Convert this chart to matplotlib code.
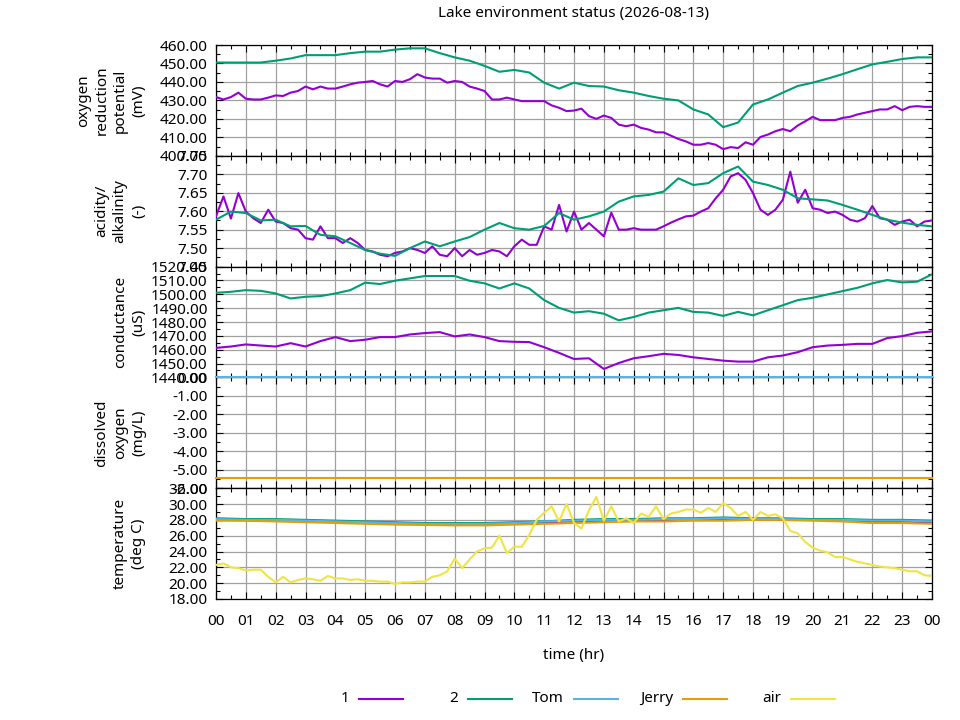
import numpy as np
import matplotlib
matplotlib.use('Agg')
import matplotlib.pyplot as plt
from matplotlib.lines import Line2D
from matplotlib.ticker import MultipleLocator, FuncFormatter

plt.rcParams['font.family'] = ['Noto Sans', 'DejaVu Sans']
FS = 11
plt.rcParams['font.size'] = FS

# ---------------- data ----------------
t15 = np.arange(97) * 0.25   # hours, 15-min samples
t30 = np.arange(49) * 0.5    # hours, 30-min samples
t60 = np.arange(25) * 1.0    # hours, hourly samples

orp_1 = [431.8, 430.5, 431.8, 434.2, 430.9, 430.5, 430.5, 431.5, 432.7, 432.4, 434.2, 435.1,
         437.5, 436.0, 437.5, 436.4, 436.4, 437.5, 438.7, 439.6, 440.0, 440.5, 438.7, 437.5,
         440.5, 440.0, 441.5, 444.2, 442.4, 441.8, 441.8, 439.6, 440.5, 440.0, 437.5, 436.4,
         435.1, 430.5, 430.5, 431.5, 430.5, 429.6, 429.6, 429.6, 429.6, 427.3, 426.0, 424.2,
         424.5, 425.5, 421.5, 420.0, 421.8, 420.5, 416.9, 416.0, 416.9, 415.1, 414.2, 412.7,
         412.7, 410.9, 409.1, 407.8, 406.0, 406.0, 406.9, 406.0, 403.6, 404.7, 404.2, 407.3,
         406.0, 410.2, 411.5, 413.3, 414.5, 413.3, 416.4, 418.7, 421.1, 419.3, 419.3, 419.3,
         420.5, 421.1, 422.4, 423.3, 424.2, 425.1, 425.1, 426.9, 424.7, 426.5, 426.9, 426.5,
         426.5]
orp_2 = [450.5, 450.5, 450.5, 450.5, 451.5, 452.7, 454.5, 454.5, 454.5, 455.6, 456.4, 456.4,
         457.5, 458.2, 458.2, 455.6, 453.3, 451.5, 448.7, 445.5, 446.5, 445.1, 439.6, 436.4,
         439.6, 437.8, 437.5, 435.5, 434.2, 432.4, 430.9, 430.0, 425.1, 422.4, 415.5, 418.0,
         427.8, 430.5, 434.2, 437.8, 439.6, 441.8, 444.2, 446.9, 449.5, 450.9, 452.4, 453.3,
         453.3]

ph_1 = [7.586, 7.640, 7.580, 7.649, 7.599, 7.581, 7.568, 7.604, 7.572, 7.568, 7.554, 7.550,
        7.527, 7.523, 7.559, 7.527, 7.527, 7.514, 7.527, 7.514, 7.495, 7.491, 7.482, 7.478,
        7.487, 7.491, 7.500, 7.495, 7.487, 7.505, 7.482, 7.478, 7.500, 7.478, 7.495, 7.482,
        7.487, 7.495, 7.491, 7.478, 7.505, 7.523, 7.509, 7.509, 7.559, 7.550, 7.617, 7.545,
        7.599, 7.550, 7.568, 7.550, 7.532, 7.596, 7.550, 7.550, 7.554, 7.550, 7.550, 7.550,
        7.559, 7.569, 7.578, 7.586, 7.588, 7.599, 7.608, 7.635, 7.658, 7.694, 7.703, 7.685,
        7.649, 7.604, 7.590, 7.604, 7.631, 7.707, 7.623, 7.658, 7.608, 7.604, 7.595, 7.599,
        7.590, 7.577, 7.572, 7.581, 7.614, 7.581, 7.577, 7.563, 7.572, 7.577, 7.559, 7.572,
        7.575]
ph_2 = [7.577, 7.599, 7.595, 7.575, 7.577, 7.559, 7.560, 7.536, 7.532, 7.514, 7.495, 7.485,
        7.479, 7.500, 7.518, 7.505, 7.518, 7.530, 7.550, 7.568, 7.554, 7.550, 7.560, 7.595,
        7.577, 7.586, 7.599, 7.626, 7.640, 7.644, 7.653, 7.689, 7.671, 7.676, 7.703, 7.721,
        7.680, 7.671, 7.658, 7.635, 7.632, 7.629, 7.617, 7.604, 7.590, 7.577, 7.569, 7.563,
        7.559]

cond_1 = [1461.3, 1462.3, 1463.8, 1463.0, 1462.3, 1464.7, 1462.3, 1466.2, 1469.1, 1466.2,
          1467.2, 1469.1, 1469.1, 1471.0, 1472.0, 1472.7, 1469.6, 1471.0, 1469.1, 1466.2,
          1465.7, 1465.5, 1461.8, 1457.7, 1453.3, 1453.8, 1446.1, 1450.4, 1453.8, 1455.3,
          1457.0, 1456.2, 1454.5, 1453.3, 1452.1, 1451.4, 1451.4, 1454.5, 1455.8, 1458.2,
          1461.8, 1463.0, 1463.5, 1464.2, 1464.2, 1468.4, 1469.8, 1472.2, 1473.2]
cond_2 = [1501.1, 1501.8, 1503.0, 1502.5, 1500.6, 1497.0, 1498.2, 1498.7, 1500.6, 1503.0,
          1508.4, 1507.4, 1509.8, 1511.5, 1513.2, 1513.2, 1513.2, 1509.8, 1507.9, 1504.2,
          1507.9, 1504.2, 1495.8, 1490.2, 1486.8, 1487.8, 1486.0, 1481.2, 1483.6, 1486.8,
          1488.5, 1490.2, 1487.3, 1486.8, 1484.4, 1487.3, 1484.8, 1488.5, 1492.1, 1495.8,
          1497.5, 1499.9, 1502.3, 1504.7, 1507.9, 1510.3, 1508.6, 1509.1, 1514.4]

do_tom = [0.0, 0.0]
do_jerry = [-5.45, -5.45]
do_t = [0.0, 24.0]

temp_1 = [28.0, 27.95, 27.9, 27.8, 27.7, 27.6, 27.5, 27.45, 27.4, 27.45, 27.5, 27.7, 27.8,
          27.9, 27.9, 28.0, 28.0, 28.1, 28.1, 28.0, 28.0, 27.9, 27.8, 27.8, 27.7]
temp_2 = [28.2, 28.1, 28.1, 28.0, 27.9, 27.8, 27.7, 27.6, 27.6, 27.6, 27.7, 27.8, 28.0,
          28.1, 28.1, 28.2, 28.2, 28.3, 28.2, 28.2, 28.1, 28.1, 28.0, 28.0, 27.9]
temp_tom = [28.1, 28.0, 28.0, 27.9, 27.8, 27.7, 27.6, 27.5, 27.5, 27.5, 27.6, 27.8, 27.9,
            28.0, 28.0, 28.1, 28.1, 28.2, 28.1, 28.1, 28.0, 28.0, 27.9, 27.9, 27.8]
temp_jerry = [27.9, 27.9, 27.8, 27.7, 27.6, 27.5, 27.4, 27.35, 27.3, 27.3, 27.4, 27.5, 27.6,
              27.7, 27.8, 27.8, 27.9, 27.9, 28.0, 28.0, 27.9, 27.8, 27.6, 27.6, 27.5]
temp_air = [22.3, 22.5, 22.0, 21.9, 21.6, 21.7, 21.7, 20.8, 20.1, 20.8, 20.1, 20.4, 20.6, 20.5,
            20.3, 20.9, 20.6, 20.6, 20.4, 20.5, 20.3, 20.3, 20.2, 20.2, 19.9, 20.1, 20.1, 20.2,
            20.2, 20.8, 21.0, 21.5, 23.1, 21.9, 23.0, 24.0, 24.4, 24.5, 26.0, 23.8, 24.6, 24.6,
            26.1, 28.0, 28.9, 29.7, 27.8, 30.0, 27.6, 26.9, 29.2, 30.9, 27.9, 29.7, 27.8, 28.2,
            27.6, 28.8, 28.4, 29.7, 28.1, 28.8, 29.0, 29.3, 29.3, 28.9, 29.5, 29.0, 30.1, 29.5,
            28.5, 29.0, 28.0, 29.0, 28.5, 28.7, 28.2, 26.6, 26.3, 25.2, 24.5, 24.1, 23.9, 23.3,
            23.3, 23.0, 22.7, 22.5, 22.3, 22.1, 22.0, 21.9, 21.7, 21.5, 21.5, 21.0, 20.9]

legend_names = ['1', '2', 'Tom', 'Jerry', 'air']
colors = {'1': '#9400d3', '2': '#009e73', 'Tom': '#56b4e9', 'Jerry': '#e69f00', 'air': '#f0e442'}

panel_labels = ['oxygen\nreduction\npotential\n(mV)', 'acidity/\nalkalinity\n(-)',
                'conductance\n(uS)', 'dissolved\noxygen\n(mg/L)', 'temperature\n(deg C)']
ylims = [(400, 460), (7.45, 7.75), (1440, 1520), (-6, 0), (18, 32)]
ymajor = [10, 0.05, 10, 1, 2]

title = 'Lake environment status (2026-08-13)'
xlabel = 'time (hr)'

# ---------------- layout ----------------
W, H = 960, 720
fig = plt.figure(figsize=(W / 100, H / 100), dpi=100)
L, R = 216 / W, 932 / W
top_px, bot_px = 45, 599
ph = (bot_px - top_px) / 5
axes = []
for i in range(5):
    y0 = 1 - (top_px + (i + 1) * ph) / H
    ax = fig.add_axes([L, y0, R - L, ph / H])
    axes.append(ax)

lw = 1.5
series = [
    [(t15, orp_1, '1'), (t30, orp_2, '2')],
    [(t15, ph_1, '1'), (t30, ph_2, '2')],
    [(t30, cond_1, '1'), (t30, cond_2, '2')],
    [(do_t, do_tom, 'Tom'), (do_t, do_jerry, 'Jerry')],
    [(t60, temp_1, '1'), (t60, temp_2, '2'), (t60, temp_tom, 'Tom'),
     (t60, temp_jerry, 'Jerry'), (t15, temp_air, 'air')],
]

for i, ax in enumerate(axes):
    for (tx, ty, name) in series[i]:
        ax.plot(tx, ty, color=colors[name], lw=lw, clip_on=(i != 3), zorder=3)
    lo, hi = ylims[i]
    ax.set_ylim(lo, hi)
    ax.set_xlim(0, 24)
    n = int(round((hi - lo) / ymajor[i]))
    ax.set_yticks(np.linspace(lo, hi, n + 1))
    ax.yaxis.set_minor_locator(MultipleLocator(ymajor[i] / 2))
    ax.yaxis.set_major_formatter(FuncFormatter(lambda v, p: '%.2f' % v))
    ax.xaxis.set_major_locator(MultipleLocator(1))
    ax.xaxis.set_minor_locator(MultipleLocator(0.5))
    ax.xaxis.set_major_formatter(FuncFormatter(lambda v, p: '%02d' % (int(round(v)) % 24)))
    ax.grid(True, which='major', color='#a0a0a0', lw=0.9)
    ax.set_axisbelow(True)
    ax.tick_params(which='both', direction='in', top=True, right=True, color='black', width=0.8)
    ax.tick_params(which='major', length=5)
    ax.tick_params(which='minor', length=3)
    ax.tick_params(axis='y', which='major', pad=6, labelsize=FS)
    ax.tick_params(axis='x', which='major', pad=11, labelsize=FS)
    for s in ax.spines.values():
        s.set_color('black')
        s.set_linewidth(0.9)
    if i < 4:
        ax.tick_params(axis='x', labelbottom=False)
    cy = 1 - (top_px + (i + 0.5) * ph) / H
    fig.text(146 / W, cy, panel_labels[i], rotation=90, ha='right', va='center',
             multialignment='center', linespacing=1.3, fontsize=FS)

fig.text(574 / W, 1 - 14 / H, title, ha='center', va='center', fontsize=FS)
fig.text(574 / W, 1 - 655 / H, xlabel, ha='center', va='center', fontsize=FS)

# legend
leg_y = 1 - 699 / H
starts = [359, 468, 574, 683, 791]
for name, x0 in zip(legend_names, starts):
    fig.text((x0 - 10) / W, leg_y, name, ha='right', va='center', fontsize=FS)
    fig.add_artist(Line2D([x0 / W, (x0 + 44) / W], [leg_y, leg_y], color=colors[name],
                          lw=lw, transform=fig.transFigure))

fig.savefig('out.png', dpi=100)
